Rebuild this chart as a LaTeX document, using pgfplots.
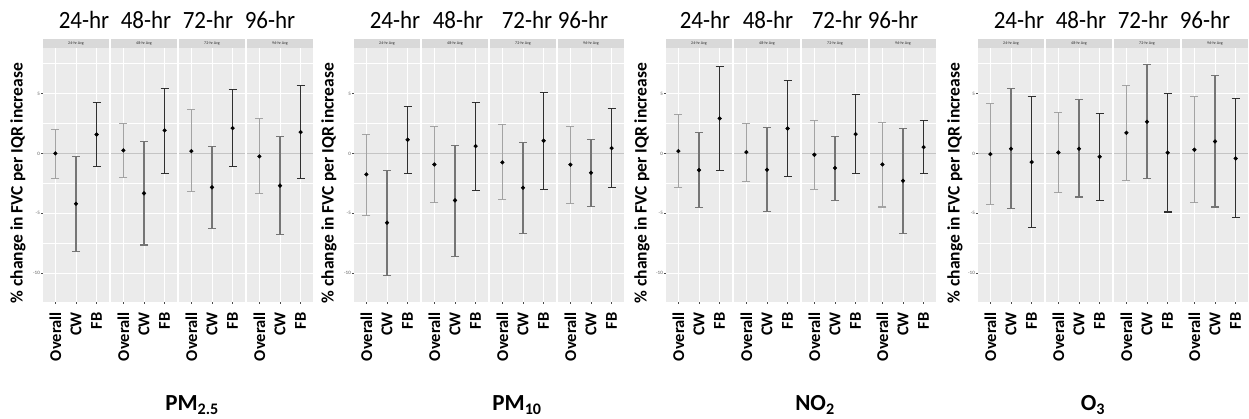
\documentclass[border=0pt]{standalone}
\usepackage{fontspec}
\setmainfont{Carlito}
\usepackage{pgfplots}
\pgfplotsset{compat=1.18}
\usepackage{pgfplotstable}

\definecolor{panelbg}{HTML}{EBEBEB}
\definecolor{stripbg}{HTML}{D9D9D9}
\definecolor{cO}{HTML}{A3A3A3}
\definecolor{cC}{HTML}{757575}
\definecolor{cF}{HTML}{303030}
\definecolor{zeroline}{HTML}{C4C4C4}

% columns: x (1=Overall, 2=CW, 3=FB), y = estimate, lo/hi = CI
\pgfplotstableread{
x y lo hi
1 0.00 -2.08 2.00
2 -4.20 -8.20 -0.22
3 1.58 -1.10 4.22
}\pmtwoA
\pgfplotstableread{
x y lo hi
1 0.25 -2.03 2.50
2 -3.33 -7.64 1.00
3 1.92 -1.64 5.42
}\pmtwoB
\pgfplotstableread{
x y lo hi
1 0.19 -3.19 3.64
2 -2.83 -6.28 0.61
3 2.11 -1.11 5.33
}\pmtwoC
\pgfplotstableread{
x y lo hi
1 -0.25 -3.36 2.92
2 -2.69 -6.78 1.39
3 1.78 -2.08 5.67
}\pmtwoD
\pgfplotstableread{
x y lo hi
1 -1.75 -5.17 1.58
2 -5.78 -10.17 -1.44
3 1.14 -1.67 3.94
}\pmtenA
\pgfplotstableread{
x y lo hi
1 -0.92 -4.06 2.22
2 -3.92 -8.58 0.67
3 0.61 -3.06 4.22
}\pmtenB
\pgfplotstableread{
x y lo hi
1 -0.75 -3.83 2.42
2 -2.86 -6.72 0.92
3 1.06 -3.00 5.06
}\pmtenC
\pgfplotstableread{
x y lo hi
1 -0.94 -4.19 2.28
2 -1.61 -4.42 1.17
3 0.44 -2.81 3.72
}\pmtenD
\pgfplotstableread{
x y lo hi
1 0.19 -2.86 3.25
2 -1.39 -4.53 1.75
3 2.92 -1.44 7.25
}\notwoA
\pgfplotstableread{
x y lo hi
1 0.11 -2.33 2.53
2 -1.36 -4.83 2.19
3 2.08 -1.89 6.08
}\notwoB
\pgfplotstableread{
x y lo hi
1 -0.11 -3.00 2.75
2 -1.22 -3.92 1.42
3 1.61 -1.67 4.92
}\notwoC
\pgfplotstableread{
x y lo hi
1 -0.92 -4.47 2.56
2 -2.28 -6.67 2.11
3 0.53 -1.67 2.75
}\notwoD
\pgfplotstableread{
x y lo hi
1 -0.06 -4.28 4.19
2 0.39 -4.61 5.42
3 -0.72 -6.17 4.72
}\othreeA
\pgfplotstableread{
x y lo hi
1 0.08 -3.25 3.39
2 0.39 -3.64 4.50
3 -0.28 -3.92 3.31
}\othreeB
\pgfplotstableread{
x y lo hi
1 1.72 -2.25 5.67
2 2.64 -2.08 7.42
3 0.06 -4.89 4.97
}\othreeC
\pgfplotstableread{
x y lo hi
1 0.31 -4.06 4.72
2 1.00 -4.47 6.50
3 -0.42 -5.36 4.56
}\othreeD

\pgfplotsset{
  facet/.style={
    scale only axis, width=66pt, height=254pt, anchor=south west,
    clip=false,
    xmin=0.4, xmax=3.6, ymin=-12.4, ymax=8.8,
    axis background/.style={fill=panelbg},
    axis line style={draw=none},
    xtick={1,2,3}, xticklabels={Overall,CW,FB},
    ytick={-10,-5,0,5}, minor ytick={-7.5,-2.5,2.5,7.5},
    xmajorgrids, ymajorgrids, yminorgrids,
    major grid style={white, line width=1pt},
    minor grid style={white, line width=0.5pt},
    tick style={gray!60!black, line width=0.4pt},
    major tick length=2pt, minor tick length=0pt,
    tick align=outside, tick pos=left,
    xticklabel style={rotate=90, anchor=east, inner sep=0pt,
      font=\bfseries\fontsize{16.5}{16.5}\selectfont},
    xticklabel shift={8pt},
    yticklabel style={font=\fontsize{5}{5}\selectfont, text=gray!70!black, inner sep=1pt},
    /pgf/number format/assume math mode=true,
    extra y ticks={0}, extra y tick labels={},
    extra y tick style={grid=major, major grid style={zeroline, line width=1pt}, tick style={draw=none}},
  },
  nofirst/.style={yticklabels={}, y tick style={draw=none}},
  eb/.style={only marks, mark=*, mark size=1.9pt,
    mark options={fill=black, draw=black},
    /pgfplots/error bars/y dir=both,
    /pgfplots/error bars/y explicit,
    /pgfplots/error bars/error bar style={color=#1, line width=1.1pt},
    /pgfplots/error bars/error mark options={color=#1, mark size=4pt, line width=1.1pt, rotate=90}},
}

\newcommand\ebplot[3]{%
  \addplot[eb=#1, restrict x to domain=#2]
    table[x=x, y=y, y error plus expr=\thisrow{hi}-\thisrow{y},
          y error minus expr=\thisrow{y}-\thisrow{lo}] {#3};}

\newcommand\facet[4]{%
  \begin{axis}[facet, at={(#1pt,117pt)}, #4]
    \ebplot{cO}{0.9:1.1}{#2}
    \ebplot{cC}{1.9:2.1}{#2}
    \ebplot{cF}{2.9:3.1}{#2}
    \fill[stripbg] (rel axis cs:0,1) rectangle ([yshift=9pt]rel axis cs:1,1);
    \node[font=\fontsize{4}{4}\selectfont, text=gray!30!black, inner sep=0pt]
      at ([yshift=4.5pt]rel axis cs:0.5,1) {#3};
  \end{axis}}

\newcommand\panel[5]{% #1 x0, #2-#5 tables
  \facet{#1}{#2}{24-hr Avg}{}
  \pgfmathsetmacro\xb{#1+68}\facet{\xb}{#3}{48-hr Avg}{nofirst}
  \pgfmathsetmacro\xc{#1+136}\facet{\xc}{#4}{72-hr Avg}{nofirst}
  \pgfmathsetmacro\xd{#1+204}\facet{\xd}{#5}{96-hr Avg}{nofirst}
}

\begin{document}
\begin{tikzpicture}
\path[use as bounding box] (0,0) rectangle (1249pt,419pt);

\panel{43}{\pmtwoA}{\pmtwoB}{\pmtwoC}{\pmtwoD}
\panel{354}{\pmtenA}{\pmtenB}{\pmtenC}{\pmtenD}
\panel{666}{\notwoA}{\notwoB}{\notwoC}{\notwoD}
\panel{978}{\othreeA}{\othreeB}{\othreeC}{\othreeD}

\tikzset{hr/.style={font=\fontsize{23}{23}\selectfont, inner sep=0pt, yscale=1.08},
         yl/.style={rotate=90, font=\bfseries\fontsize{17.5}{17.5}\selectfont, inner sep=0pt},
         pol/.style={font=\bfseries\fontsize{23}{23}\selectfont, anchor=base, inner sep=0pt}}
% facet headings
\foreach \x/\t in {84/24-hr,146/48-hr,208/72-hr,270/96-hr,
                   395/24-hr,458/48-hr,527/72-hr,583/96-hr,
                   705/24-hr,768/48-hr,837/72-hr,893/96-hr,
                   1019/24-hr,1081/48-hr,1143/72-hr,1205/96-hr}
  \node[hr] at (\x pt,399pt) {\t};
% y labels
\foreach \x in {18,329,642,955}
  \node[yl] at (\x pt,236pt) {\% change in FVC per IQR increase};
% pollutant labels
\node[pol] at (192pt,8pt) {PM\textsubscript{2.5}};
\node[pol] at (517pt,8pt) {PM\textsubscript{10}};
\node[pol] at (815pt,8pt) {NO\textsubscript{2}};
\node[pol] at (1093pt,8pt) {O\textsubscript{3}};
\end{tikzpicture}
\end{document}
